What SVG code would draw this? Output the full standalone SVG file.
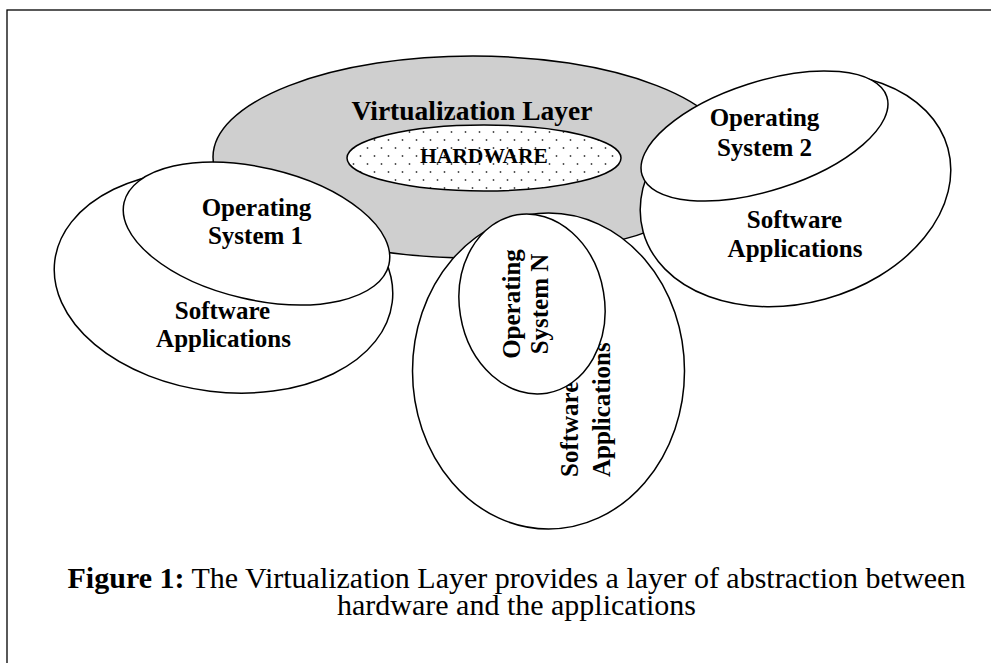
<svg xmlns="http://www.w3.org/2000/svg" width="991" height="663" viewBox="0 0 991 663">
<style>
.e{fill:#fff;stroke:#000;stroke-width:1.5}
.lbl{font-family:"Liberation Serif","Times New Roman",serif;font-weight:bold;font-size:25px;fill:#000}
.cap{font-family:"Liberation Serif","Times New Roman",serif;font-size:30px;fill:#000}
</style>
<defs>
<pattern id="dots" width="14" height="16" patternUnits="userSpaceOnUse">
<rect width="14" height="16" fill="#fff"/>
<circle cx="3.5" cy="4" r="0.9" fill="#444"/>
<circle cx="10.5" cy="12" r="0.9" fill="#444"/>
</pattern>
</defs>
<rect width="991" height="663" fill="#fff"/>
<rect x="7" y="10" width="1010" height="700" fill="none" stroke="#000" stroke-width="1.3"/>

<g id="virtualization-layer">
<ellipse cx="473" cy="157" rx="260" ry="101" fill="#cfcfcf" stroke="#000" stroke-width="1.5"/>
<text class="lbl" x="472" y="120" text-anchor="middle" style="font-size:27.5px">Virtualization Layer</text>
</g>

<g id="hardware">
<ellipse cx="484" cy="158" rx="137" ry="33" fill="url(#dots)" stroke="#000" stroke-width="1.5"/>
<text class="lbl" x="484" y="163" text-anchor="middle" style="font-size:21.5px">HARDWARE</text>
</g>

<g id="software-applications-1">
<ellipse class="e" cx="223.5" cy="281.5" rx="170" ry="110.5" transform="rotate(7 223.5 281.5)"/>
</g>
<g id="operating-system-1">
<ellipse class="e" cx="256.5" cy="233.5" rx="136" ry="66" transform="rotate(13.2 256.5 233.5)"/>
<text class="lbl" x="256.5" y="216" text-anchor="middle">Operating</text>
<text class="lbl" x="255.5" y="244" text-anchor="middle">System 1</text>
</g>
<g id="software-applications-1-label">
<text class="lbl" x="222.5" y="319" text-anchor="middle">Software</text>
<text class="lbl" x="223.5" y="347" text-anchor="middle">Applications</text>
</g>

<g id="software-applications-n">
<ellipse class="e" cx="548.5" cy="371" rx="136" ry="158"/>
<text class="lbl" transform="translate(578 477) rotate(-90)" x="0" y="0">Software</text>
<text class="lbl" transform="translate(610 477) rotate(-90)" x="0" y="0">Applications</text>
</g>
<g id="operating-system-n">
<ellipse class="e" cx="532" cy="304" rx="72.5" ry="90.4" transform="rotate(-9.5 532 304)"/>
<text class="lbl" transform="translate(520 304) rotate(-90)" x="0" y="0" text-anchor="middle">Operating</text>
<text class="lbl" transform="translate(548 304) rotate(-90)" x="0" y="0" text-anchor="middle">System N</text>
</g>

<g id="software-applications-2">
<ellipse class="e" cx="795.5" cy="190" rx="158" ry="113" transform="rotate(-15.3 795.5 190)"/>
<text class="lbl" x="794.5" y="228" text-anchor="middle">Software</text>
<text class="lbl" x="795" y="257" text-anchor="middle">Applications</text>
</g>
<g id="operating-system-2">
<ellipse class="e" cx="764.5" cy="136" rx="128.5" ry="54.4" transform="rotate(-17.8 764.5 136)"/>
<text class="lbl" x="764.5" y="126" text-anchor="middle">Operating</text>
<text class="lbl" x="764.5" y="156" text-anchor="middle">System 2</text>
</g>

<g id="caption">
<text class="cap" x="516.5" y="588" text-anchor="middle"><tspan font-weight="bold">Figure 1:</tspan> The Virtualization Layer provides a layer of abstraction between</text>
<text class="cap" x="516.5" y="615" text-anchor="middle">hardware and the applications</text>
</g>
<g id="connectors"/>
</svg>
